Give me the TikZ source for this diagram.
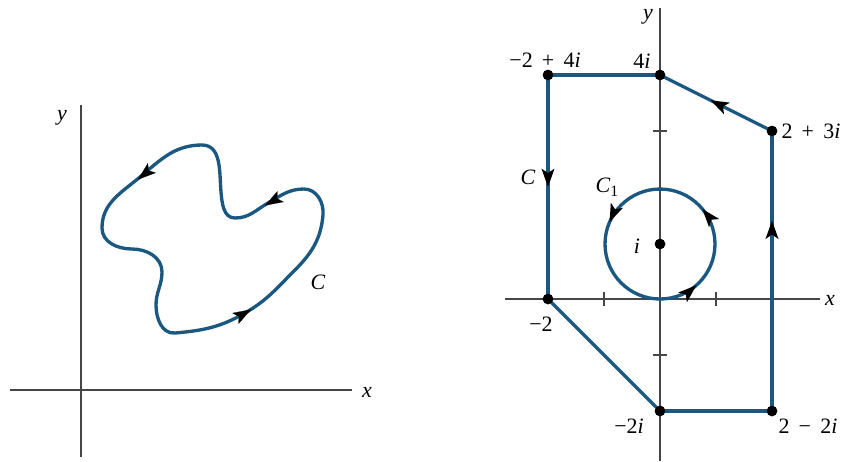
\documentclass[tikz,border=0pt]{standalone}
\usepackage{fontspec}
\setmainfont{Liberation Serif}
\usetikzlibrary{arrows.meta,decorations.markings}
\definecolor{curveblue}{RGB}{26,88,130}
\definecolor{axisgray}{RGB}{70,70,70}
\tikzset{
  axisline/.style={draw=axisgray, line width=0.7pt},
  curveline/.style={draw=curveblue, line width=1.9pt, line join=round},
  dot/.style={circle, fill=black, inner sep=0pt, minimum size=0.21cm},
  lbl/.style={font=\fontsize{12.5}{14}\selectfont, inner sep=0pt},
  midarrow/.style={postaction={decorate}, decoration={markings, mark=at position #1 with {\arrow[black]{Stealth[length=0.36cm,width=0.25cm,inset=0.08cm]}}}},
  tiparrow/.style={draw=black, line width=0.1pt, -{Stealth[length=0.36cm,width=0.25cm,inset=0.08cm]}},
}
\newcommand{\myit}{\textit}
\newcommand{\mygap}{\hspace{0.42em}}
\begin{document}
\begin{tikzpicture}[x=0.02cm,y=0.02cm]
\useasboundingbox (0,0) rectangle (845,-461);
% ---------- left panel ----------
\coordinate (lyt) at (81,-105);
\coordinate (lyb) at (81,-457);
\coordinate (lxl) at (10,-390);
\coordinate (lxr) at (352,-390);
\draw[axisline] (lyt) -- (lyb);
\draw[axisline] (lxl) -- (lxr);
\node[lbl] (ly) at (62,-118) {\myit{y}};
\node[lbl] (lx) at (367,-392) {\myit{x}};
\node[lbl] (lC) at (318,-282) {\myit{C}};
\coordinate (K1) at (175,-333);
\coordinate (K2) at (245,-313);
\coordinate (K3) at (294,-271);
\coordinate (K4) at (323,-215);
\coordinate (K5) at (304,-189);
\coordinate (K6) at (268,-203);
\coordinate (K7) at (235,-218);
\coordinate (K8) at (221,-192);
\coordinate (K9) at (202,-145);
\coordinate (K10) at (140,-177);
\coordinate (K11) at (102,-228);
\coordinate (K12) at (132,-249);
\coordinate (K13) at (162,-272);
\coordinate (K14) at (156,-305);
\draw[curveline]
  (K1) to[out=5,in=210] (K2) to[out=30,in=225] (K3) to[out=45,in=265] (K4)
  to[out=85,in=0] (K5) to[out=180,in=30] (K6) to[out=210,in=0] (K7)
  to[out=180,in=275] (K8) to[out=95,in=0] (K9) to[out=180,in=40] (K10)
  to[out=220,in=90] (K11) to[out=270,in=180] (K12) to[out=0,in=90] (K13)
  to[out=270,in=90] (K14) to[out=270,in=185] (K1) -- cycle;
\coordinate (a1) at (251,-309.5);
\coordinate (a1t) at (250.13,-310);
\coordinate (a2) at (265,-205.5);
\coordinate (a2t) at (265.87,-205);
\coordinate (a3) at (138,-179.5);
\coordinate (a3t) at (138.77,-178.86);
\draw[tiparrow] (a1t) -- (a1);
\draw[tiparrow] (a2t) -- (a2);
\draw[tiparrow] (a3t) -- (a3);
% ---------- right panel ----------
\coordinate (xl) at (505,-299);
\coordinate (xr) at (820,-299);
\coordinate (yt) at (660,-8);
\coordinate (yb) at (660,-461);
\draw[axisline] (xl) -- (xr);
\draw[axisline] (yt) -- (yb);
\foreach \px in {604,716} \draw[axisline] (\px,-292) -- (\px,-306);
\foreach \py in {-131,-355} \draw[axisline] (653,\py) -- (667,\py);
\node[lbl] (rx) at (830,-300) {\myit{x}};
\node[lbl] (ry) at (648,-17) {\myit{y}};
% circle C1
\coordinate (c1b) at (660,-299);
\draw[curveline,
  postaction={decorate},
  decoration={markings,
    mark=at position 0.115 with {\arrow[black]{Stealth[length=0.36cm,width=0.25cm,inset=0.08cm]}},
    mark=at position 0.36 with {\arrow[black]{Stealth[length=0.36cm,width=0.25cm,inset=0.08cm]}},
    mark=at position 0.685 with {\arrow[black]{Stealth[length=0.36cm,width=0.25cm,inset=0.08cm]}}}]
  (c1b) arc[start angle=-90, end angle=270, radius=1.1cm];
% polygon vertices
\node[dot] (A) at (548,-75) {};
\node[dot] (B) at (660,-75) {};
\node[dot] (D) at (772,-131) {};
\node[dot] (E) at (772,-411) {};
\node[dot] (F) at (660,-411) {};
\node[dot] (G) at (548,-299) {};
\node[dot] (I) at (660,-244) {};
\draw[curveline, midarrow=0.68] (E.center) -- (D.center);
\draw[curveline, midarrow=0.55] (D.center) -- (B.center);
\draw[curveline] (B.center) -- (A.center);
\draw[curveline, midarrow=0.5] (A.center) -- (G.center);
\draw[curveline] (G.center) -- (F.center);
\draw[curveline] (F.center) -- (E.center);
\foreach \n in {A,B,D,E,F,G,I} \node[dot] at (\n) {};
% labels
\node[lbl] (tA) at (545,-60) {−2\mygap+\mygap4\myit{i}};
\node[lbl] (tB) at (642,-61) {4\myit{i}};
\node[lbl] (tD) at (811,-131) {2\mygap+\mygap3\myit{i}};
\node[lbl] (tC) at (528,-177) {\myit{C}};
\node[lbl] (tC1) at (607,-187) {\myit{C}\raisebox{-0.35ex}{\fontsize{9}{10}\selectfont 1}};
\node[lbl] (ti) at (637,-246) {\myit{i}};
\node[lbl] (tG) at (541,-324) {−2};
\node[lbl] (tF) at (629,-426) {−2\myit{i}};
\node[lbl] (tE) at (808,-426) {2\mygap−\mygap2\myit{i}};
\end{tikzpicture}
\end{document}
